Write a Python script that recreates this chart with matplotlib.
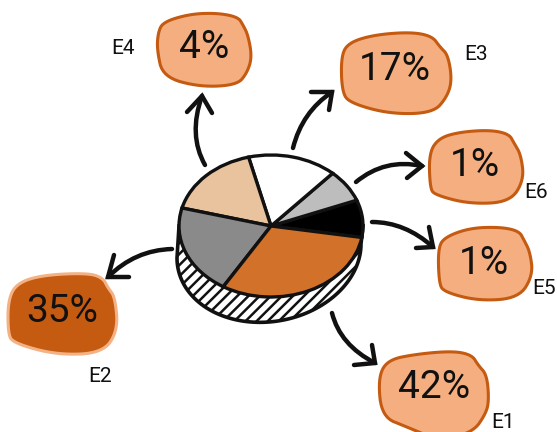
import numpy as np
import matplotlib
matplotlib.use("Agg")
import matplotlib.pyplot as plt
from matplotlib.path import Path
from matplotlib.patches import PathPatch, Polygon

W, H = 557, 432

# pie slices, counter clockwise from the black one
slice_shares = [8.5, 7.4, 15.6, 17.0, 20.4, 31.1]
slice_colors = ["#000000", "#bdbdbd", "#ffffff", "#e8c39e", "#8a8a8a", "#d2722a"]

# callouts
labels = ["E1", "E2", "E3", "E4", "E5", "E6"]
values = ["42%", "35%", "17%", "4%", "1%", "1%"]
blob_fill = ["#f4ae80", "#c55a11", "#f4ae80", "#f4ae80", "#f4ae80", "#f4ae80"]
blob_edge = ["#c55a11", "#f4b183", "#c55a11", "#c55a11", "#c55a11", "#c55a11"]

value_pos = [(434, 388), (62, 311), (395, 69), (204, 48), (484, 263), (475, 166)]
label_pos = [(503, 422), (100, 376), (476, 55), (123, 49), (544, 288), (536, 192)]

blob_pts = [
    [(387, 360), (417, 354), (453, 351), (472, 355), (478, 365), (487, 375), (489, 402),
     (485, 415), (473, 432), (440, 441), (407, 427), (382, 417), (378, 379)],
    [(17, 283), (43, 275), (88, 273), (103, 278), (108, 288), (115, 297), (118, 330),
     (103, 353), (57, 355), (13, 343), (8, 333), (8, 300)],
    [(348, 43), (373, 35), (410, 32), (432, 36), (440, 47), (448, 55), (452, 80),
     (447, 97), (433, 113), (390, 114), (350, 103), (342, 92), (341, 57)],
    [(163, 22), (190, 14), (217, 13), (238, 17), (243, 25), (248, 35), (252, 57),
     (247, 73), (237, 85), (200, 87), (163, 77), (157, 50), (158, 33)],
    [(445, 237), (470, 228), (500, 227), (519, 231), (524, 240), (530, 252), (533, 275),
     (519, 298), (479, 301), (444, 292), (439, 283), (438, 248)],
    [(439, 138), (460, 132), (490, 130), (509, 134), (514, 143), (521, 155), (524, 180),
     (510, 202), (470, 204), (435, 195), (430, 188), (429, 153)],
]

# start, bend, tip, barb, barb
arrows = [
    [(332, 313), (340, 345), (375, 363), (372, 345), (354, 365)],
    [(172, 249), (135, 250), (108, 277), (114, 255), (129, 277)],
    [(293, 148), (302, 112), (332, 92), (311, 92), (329, 110)],
    [(205, 165), (188, 135), (202, 96), (187, 112), (212, 113)],
    [(372, 222), (405, 222), (433, 247), (429, 227), (416, 248)],
    [(356, 182), (385, 158), (422, 166), (406, 153), (407, 178)],
]


def smooth(pts, rounds=3):
    # chaikin, good enough for a hand drawn outline
    pts = np.array(pts, dtype=float)
    for _ in range(rounds):
        nxt = np.roll(pts, -1, axis=0)
        pts = np.column_stack([0.75 * pts + 0.25 * nxt, 0.25 * pts + 0.75 * nxt]).reshape(-1, 2)
    return pts


fig = plt.figure(figsize=(W / 100, H / 100), dpi=100)
ax = fig.add_axes([0, 0, 1, 1])
ax.set_xlim(0, W)
ax.set_ylim(H, 0)
ax.axis("off")

plt.rcParams["hatch.linewidth"] = 1.8

for pts, fc, ec in zip(blob_pts, blob_fill, blob_edge):
    ax.add_patch(Polygon(smooth(pts), closed=True, facecolor=fc, edgecolor=ec, lw=2.2, zorder=2))

for pos, v in zip(value_pos, values):
    ax.text(pos[0], pos[1], v, fontsize=28, family="Roboto", color="#111111",
            ha="center", va="center", zorder=4)
for pos, t in zip(label_pos, labels):
    ax.text(pos[0], pos[1], t, fontsize=15, family="Roboto", color="#111111",
            ha="center", va="center", zorder=4)

for start, bend, tip, b1, b2 in arrows:
    ax.add_patch(PathPatch(Path([start, bend, tip], [Path.MOVETO, Path.CURVE3, Path.CURVE3]),
                           fill=False, edgecolor="#111111", lw=3.2, capstyle="round", zorder=3))
    ax.plot([b1[0], tip[0], b2[0]], [b1[1], tip[1], b2[1]], color="#111111", lw=3.2,
            solid_capstyle="round", solid_joinstyle="miter", zorder=3)

# side of the disc, sits a bit lower than the top and leans left
t = np.linspace(0, np.pi, 80)
side_x = 269 + 92 * np.cos(t)
side_y = 251 + 71 * np.sin(t) + 7 * (-np.cos(t))
side = np.column_stack([side_x, side_y])
side = np.vstack([[363, 226], side, [179, 226]])
ax.add_patch(Polygon(side, closed=True, facecolor="white", edgecolor="#111111",
                     hatch="///", lw=2.6, zorder=1))

# top of the disc, own axes so the circle can be squashed
ax_pie = fig.add_axes([179 / W, 1 - 297 / H, 184 / W, 142 / H])
ax_pie.pie(slice_shares, colors=slice_colors, startangle=-9.3, radius=1,
           wedgeprops={"edgecolor": "#111111", "linewidth": 2.4, "clip_on": False})
ax_pie.set_xlim(-1, 1)
ax_pie.set_ylim(-1, 1)
ax_pie.set_aspect("auto")
ax_pie.patch.set_alpha(0)

fig.savefig("out.png", dpi=100)
